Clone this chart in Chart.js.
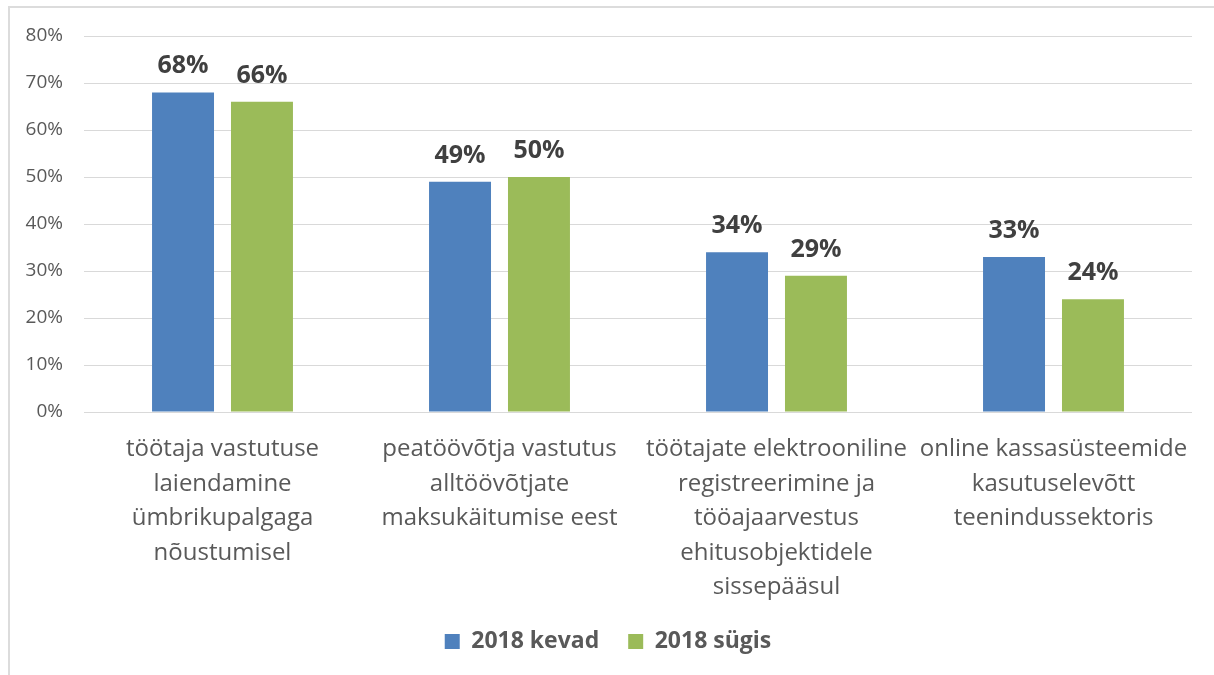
<!DOCTYPE html>
<html>
<head>
<meta charset="utf-8">
<script src="https://cdn.jsdelivr.net/npm/chart.js@4/dist/chart.umd.min.js"></script>
<style>
  html, body { margin: 0; padding: 0; background: #fff; }
  #wrap { position: relative; width: 1214px; height: 675px; overflow: hidden; }
  #frame { position: absolute; left: 8px; top: 6px; width: 1220px; height: 700px;
           border-top: 2px solid #dcdcdc; border-left: 2px solid #dcdcdc; }
  canvas { position: absolute; left: 0; top: 0; }
</style>
</head>
<body>
<div id="wrap">
  <div id="frame"></div>
  <canvas id="c" width="1214" height="675"></canvas>
</div>
<script>
const categories = [
  ["töötaja vastutuse", "laiendamine", "ümbrikupalgaga", "nõustumisel"],
  ["peatöövõtja vastutus", "alltöövõtjate", "maksukäitumise eest"],
  ["töötajate elektrooniline", "registreerimine ja", "tööajaarvestus", "ehitusobjektidele", "sissepääsul"],
  ["online kassasüsteemide", "kasutuselevõtt", "teenindussektoris"]
];
const seriesNames = ["2018 kevad", "2018 sügis"];
const kevad = [68, 49, 34, 33];
const sugis = [66, 50, 29, 24];
const yTicks = [0, 10, 20, 30, 40, 50, 60, 70, 80];

const FONT = "'Open Sans', Lato, sans-serif";
const TXT = "#595959";

const dataLabels = {
  id: "dataLabels",
  afterDatasetsDraw(chart) {
    const ctx = chart.ctx;
    ctx.save();
    ctx.font = "bold 25px " + FONT;
    ctx.fillStyle = "#404040";
    ctx.textAlign = "center";
    ctx.textBaseline = "alphabetic";
    chart.data.datasets.forEach((ds, i) => {
      chart.getDatasetMeta(i).data.forEach((el, j) => {
        ctx.fillText(ds.data[j] + "%", el.x, el.y - 19);
      });
    });
    ctx.restore();
  }
};

new Chart(document.getElementById("c"), {
  type: "bar",
  data: {
    labels: categories,
    datasets: [
      { label: seriesNames[0], data: kevad, backgroundColor: "#4F81BD" },
      { label: seriesNames[1], data: sugis, backgroundColor: "#9BBB59" }
    ]
  },
  options: {
    responsive: false,
    animation: false,
    devicePixelRatio: 1,
    categoryPercentage: 0.57,
    barPercentage: 0.785,
    layout: { padding: { top: 36, left: 24, right: 22, bottom: 12 } },
    plugins: {
      legend: {
        position: "bottom",
        labels: {
          color: TXT,
          font: { family: FONT, size: 23, weight: "bold" },
          boxWidth: 15, boxHeight: 15, padding: 29
        }
      },
      tooltip: { enabled: false }
    },
    scales: {
      x: {
        grid: { display: false },
        border: { display: false },
        ticks: {
          color: TXT, padding: 12, maxRotation: 0, autoSkip: false,
          font: { family: FONT, size: 24, lineHeight: 1.44 }
        },
        afterFit(s) { s.height = 189; }
      },
      y: {
        min: 0, max: 80,
        afterBuildTicks(s) { s.ticks = yTicks.map(v => ({ value: v })); },
        grid: { color: "#d9d9d9", lineWidth: 1, drawTicks: false },
        border: { display: false },
        ticks: {
          color: TXT, padding: 21,
          font: { family: FONT, size: 19 },
          callback: v => v + "%"
        },
        afterFit(s) { s.width = 60; }
      }
    }
  },
  plugins: [dataLabels]
});
</script>
</body>
</html>
